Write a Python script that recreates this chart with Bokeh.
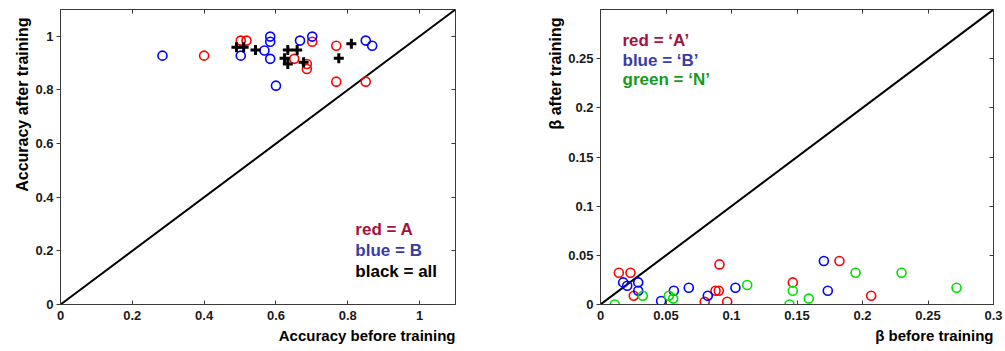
from bokeh.plotting import figure
from bokeh.layouts import row
from bokeh.models import Range1d, LinearAxis, FixedTicker, Title, Label
from bokeh.embed import file_html
from bokeh.resources import INLINE

# ---------------- Left panel: accuracy ----------------
acc_red_before = [0.400, 0.502, 0.518, 0.651, 0.686, 0.686, 0.701, 0.768, 0.768, 0.850]
acc_red_after = [0.928, 0.984, 0.984, 0.916, 0.897, 0.878, 0.980, 0.965, 0.831, 0.831]

acc_blue_before = [0.284, 0.502, 0.584, 0.584, 0.568, 0.584, 0.667, 0.701, 0.600, 0.850, 0.868]
acc_blue_after = [0.928, 0.928, 0.999, 0.980, 0.947, 0.916, 0.984, 0.999, 0.816, 0.984, 0.965]

acc_all_before = [0.490, 0.510, 0.543, 0.633, 0.659, 0.624, 0.633, 0.677, 0.775, 0.810]
acc_all_after = [0.959, 0.959, 0.949, 0.949, 0.949, 0.918, 0.897, 0.903, 0.918, 0.972]

acc_diag = [0.0, 1.1]
acc_ticks = [0, 0.2, 0.4, 0.6, 0.8, 1.0]
acc_tick_labels = ["0", "0.2", "0.4", "0.6", "0.8", "1"]

# ---------------- Right panel: beta ----------------
beta_red_before = [0.0140, 0.0229, 0.0254, 0.0908, 0.0878, 0.0903, 0.0796, 0.0967, 0.1468, 0.1824, 0.2066]
beta_red_after = [0.0323, 0.0323, 0.0089, 0.0408, 0.0140, 0.0140, 0.0028, 0.0028, 0.0225, 0.0443, 0.0089]

beta_blue_before = [0.0173, 0.0204, 0.0288, 0.0288, 0.0463, 0.0560, 0.0674, 0.0819, 0.1030, 0.1705, 0.1735]
beta_blue_after = [0.0225, 0.0191, 0.0225, 0.0140, 0.0035, 0.0140, 0.0170, 0.0089, 0.0170, 0.0443, 0.0140]

beta_green_before = [0.0109, 0.0323, 0.0522, 0.0555, 0.1120, 0.1443, 0.1468, 0.1590, 0.1947, 0.2298, 0.2718]
beta_green_after = [0.0000, 0.0089, 0.0089, 0.0060, 0.0198, 0.0000, 0.0140, 0.0060, 0.0323, 0.0323, 0.0170]

beta_diag = [0.0, 0.3]
beta_x_ticks = [0, 0.05, 0.1, 0.15, 0.2, 0.25, 0.3]
beta_x_tick_labels = ["0", "0.05", "0.1", "0.15", "0.2", "0.25", "0.3"]
beta_y_ticks = [0, 0.05, 0.1, 0.15, 0.2, 0.25]
beta_y_tick_labels = ["0", "0.05", "0.1", "0.15", "0.2", "0.25"]

FONT = "Liberation Sans"
FRAME = "#3a3a3a"


def mirror_axis(ticks):
    return LinearAxis(ticker=FixedTicker(ticks=ticks), major_tick_in=4, major_tick_out=0,
                      major_label_overrides={t: "" for t in ticks}, major_label_standoff=0,
                      major_label_text_font_size="1px",
                      axis_line_color=None, major_tick_line_color=FRAME,
                      minor_tick_line_color=None)


def style_axes(p, xt, xl, yt, yl, xlabel, ylabel, yoff):
    p.xgrid.visible = False
    p.ygrid.visible = False
    p.outline_line_color = FRAME
    p.outline_line_width = 1
    for ax, ticks, labels in ((p.xaxis[0], xt, xl), (p.yaxis[0], yt, yl)):
        ax.ticker = FixedTicker(ticks=ticks)
        ax.major_label_overrides = {t: l for t, l in zip(ticks, labels)}
        ax.minor_tick_line_color = None
        ax.axis_line_color = FRAME
        ax.major_tick_line_color = FRAME
        ax.major_label_text_font = FONT
        ax.major_label_text_font_style = "bold"
        ax.major_label_text_font_size = "13px"
        ax.major_label_text_color = "#1a1a1a"
    p.xaxis[0].major_tick_in = 4
    p.xaxis[0].major_tick_out = 0
    p.xaxis[0].major_label_standoff = 6
    p.yaxis[0].major_tick_in = 0
    p.yaxis[0].major_tick_out = 4
    p.yaxis[0].major_label_standoff = 3
    p.add_layout(mirror_axis(xt), "above")
    p.add_layout(mirror_axis(yt), "right")
    p.add_layout(Title(text=xlabel, align="right", text_font=FONT, text_font_style="bold",
                       text_font_size="15px", text_color="#000000", standoff=5), "below")
    p.add_layout(Title(text=ylabel, align="right", text_font=FONT, text_font_style="bold",
                       text_font_size="16px", text_color="#000000", standoff=3,
                       offset=yoff), "left")


# ---------- left figure ----------
p1 = figure(width=528, height=351, output_backend="svg", toolbar_location=None,
            x_range=Range1d(0, 1.1), y_range=Range1d(0, 1.1),
            min_border_left=60, min_border_right=73, min_border_top=9, min_border_bottom=47)
style_axes(p1, acc_ticks, acc_tick_labels, acc_ticks, acc_tick_labels,
           "Accuracy before training", "Accuracy after training", 8)
p1.line(acc_diag, acc_diag, line_color="#000000", line_width=2)
p1.scatter(acc_red_before, acc_red_after, marker="circle", size=9, fill_color=None,
           line_color="#ff0000", line_width=1.6)
p1.scatter(acc_blue_before, acc_blue_after, marker="circle", size=9, fill_color=None,
           line_color="#0000ff", line_width=1.6)
p1.scatter(acc_all_before, acc_all_after, marker="cross", size=10, line_color="#000000",
           line_width=3)
for txt, col, yy in (("red = A", "#a3123e", 0.316), ("blue = B", "#3b3ba8", 0.238),
                     ("black = all", "#000000", 0.160)):
    p1.add_layout(Label(x=0.821, y=yy, text=txt, text_color=col, text_font=FONT,
                        text_font_style="bold", text_font_size="17px", text_baseline="top"))

# ---------- right figure ----------
p2 = figure(width=477, height=351, output_backend="svg", toolbar_location=None,
            x_range=Range1d(0, 0.3), y_range=Range1d(0, 0.3),
            min_border_left=72, min_border_right=12, min_border_top=9, min_border_bottom=47)
style_axes(p2, beta_x_ticks, beta_x_tick_labels, beta_y_ticks, beta_y_tick_labels,
           "β before training", "β after training", 8)
p2.line(beta_diag, beta_diag, line_color="#000000", line_width=2)
p2.scatter(beta_red_before, beta_red_after, marker="circle", size=9, fill_color=None,
           line_color="#ff0000", line_width=1.6)
p2.scatter(beta_blue_before, beta_blue_after, marker="circle", size=9, fill_color=None,
           line_color="#0000ff", line_width=1.6)
p2.scatter(beta_green_before, beta_green_after, marker="circle", size=9, fill_color=None,
           line_color="#00e000", line_width=1.6)
for txt, col, yy in (("red = \u2018A\u2019", "#a3123e", 0.278), ("blue = \u2018B\u2019", "#3b3ba8", 0.258),
                     ("green = \u2018N\u2019", "#1a9a1a", 0.238)):
    p2.add_layout(Label(x=0.0168, y=yy, text=txt, text_color=col, text_font=FONT,
                        text_font_style="bold", text_font_size="17px", text_baseline="top"))

layout = row(p1, p2)
open("out.html", "w").write(file_html(layout, INLINE))
